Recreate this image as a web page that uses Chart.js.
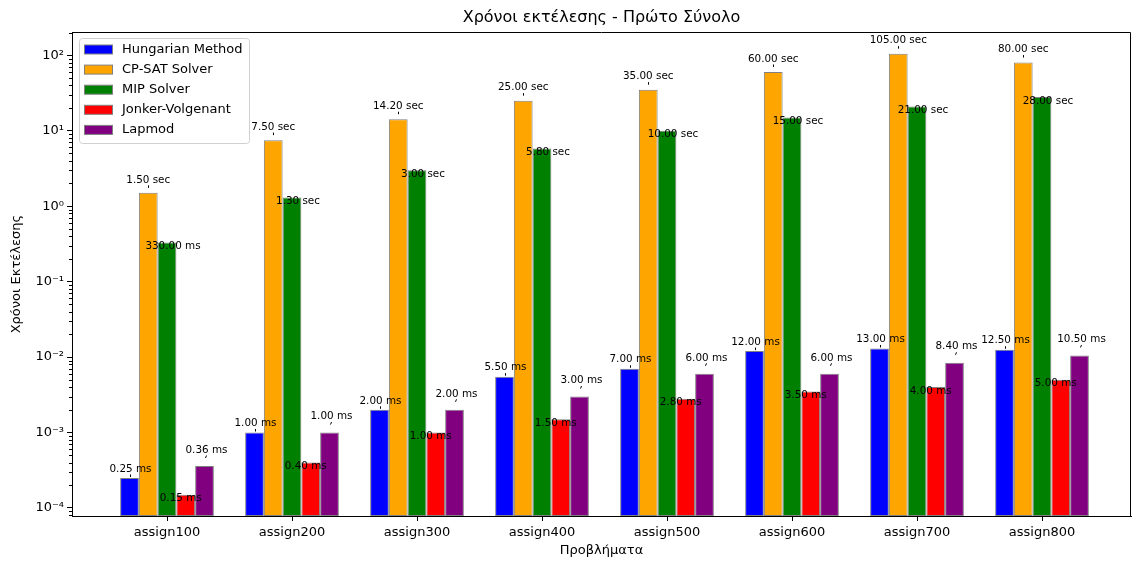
<!DOCTYPE html>
<html><head><meta charset="utf-8">
<script src="https://cdn.jsdelivr.net/npm/chart.js@4.4.1/dist/chart.umd.min.js"></script>
<style>html,body{margin:0;padding:0;background:#fff;} #wrap{width:1132px;height:561px;}</style>
</head><body><div id="wrap"><canvas id="c" width="1132" height="561"></canvas></div>
<script>
const categories = ['assign100','assign200','assign300','assign400','assign500','assign600','assign700','assign800'];
const hungarian = [0.00025, 0.001, 0.002, 0.0055, 0.007, 0.012, 0.013, 0.0125];
const cpSat = [1.5, 7.5, 14.2, 25, 35, 60, 105, 80];
const mip = [0.33, 1.3, 3.0, 5.8, 10, 15, 21, 28];
const jonker = [0.00015, 0.0004, 0.001, 0.0015, 0.0028, 0.0035, 0.004, 0.005];
const lapmod = [0.00036, 0.001, 0.002, 0.003, 0.006, 0.006, 0.0084, 0.0105];
const seriesNames = ['Hungarian Method','CP-SAT Solver','MIP Solver','Jonker-Volgenant','Lapmod'];
const yMajorTicks = [1e-4, 1e-3, 1e-2, 1e-1, 1, 10, 100];
const yTickLabels = ['10⁻⁴','10⁻³','10⁻²','10⁻¹','10⁰','10¹','10²'];

const seriesValues = [hungarian, cpSat, mip, jonker, lapmod];
const colors = ['#0000ff','#ffa500','#008000','#ff0000','#800080'];
// label placement style per series: [dx, dy of text centre from bar top, draw tick]
const labelStyle = [[1,-9,true],[0,-13,true],[6,4,false],[-5,4,false],[2,-16,true]];
const FONT = '"DejaVu Sans", sans-serif';
const Y_MIN = 7.83e-5, Y_MAX = 202;

function isMajor(v){ const l = Math.log10(v); return Math.abs(l - Math.round(l)) < 1e-9; }
function fmt(v){ return v < 1 ? (v*1000).toFixed(2) + ' ms' : v.toFixed(2) + ' sec'; }

const datasets = seriesNames.map((name, s) => ({
  label: name,
  data: seriesValues[s].map((v, i) => ({x: i, y: v})),
  backgroundColor: colors[s],
  borderColor: '#808080',
  borderWidth: 1,
  borderSkipped: false,
  categoryPercentage: 0.75,
  barPercentage: 1.0
}));

const extras = {
  id: 'extras',
  afterDraw(chart) {
    const ctx = chart.ctx, a = chart.chartArea;
    const ys = chart.scales.y;
    ctx.save();
    ctx.strokeStyle = '#000'; ctx.lineWidth = 1;
    ys.ticks.forEach(t => {
      if (isMajor(t.value)) return;
      const p = Math.round(ys.getPixelForValue(t.value)) + 0.5;
      ctx.beginPath(); ctx.moveTo(a.left - 3, p); ctx.lineTo(a.left, p); ctx.stroke();
    });
    ctx.beginPath();
    ctx.rect(Math.round(a.left) + 0.5, Math.round(a.top) + 0.5, Math.round(a.right - a.left) - 1, Math.round(a.bottom - a.top));
    ctx.stroke();
    ctx.font = '10.4px ' + FONT;
    ctx.textAlign = 'center'; ctx.textBaseline = 'middle';
    chart.data.datasets.forEach((ds, s) => {
      const meta = chart.getDatasetMeta(s);
      const [dx, dy, tick] = labelStyle[s];
      meta.data.forEach((bar, i) => {
        const v = seriesValues[s][i];
        const top = bar.y;
        if (tick) {
          ctx.strokeStyle = '#000'; ctx.lineWidth = 1;
          ctx.beginPath();
          const x0 = Math.round(bar.x) + 0.5;
          ctx.moveTo(x0, top + dy + 8); ctx.lineTo(x0 + (dx > 1 ? 1 : 0), top + dy + 5.5);
          ctx.stroke();
        }
        ctx.fillStyle = '#000';
        ctx.fillText(fmt(v), bar.x + dx, top + dy);
      });
    });
    const lx = 79.5, ly = 38.5, lw = 170, lh = 105;
    ctx.beginPath();
    if (ctx.roundRect) ctx.roundRect(lx, ly, lw, lh, 3); else ctx.rect(lx, ly, lw, lh);
    ctx.fillStyle = 'rgba(255,255,255,0.8)'; ctx.fill();
    ctx.strokeStyle = '#d0d0d0'; ctx.lineWidth = 1; ctx.stroke();
    ctx.font = '13px ' + FONT; ctx.textAlign = 'left'; ctx.textBaseline = 'middle';
    seriesNames.forEach((n, s) => {
      const cy = 49.5 + s * 20.1;
      ctx.fillStyle = colors[s];
      ctx.fillRect(84.5, cy - 4.5, 28, 9);
      ctx.strokeStyle = '#808080'; ctx.strokeRect(84.5, cy - 4.5, 28, 9);
      ctx.fillStyle = '#000';
      ctx.fillText(n, 122, cy);
    });
    ctx.restore();
  }
};

new Chart(document.getElementById('c'), {
  type: 'bar',
  data: { datasets },
  options: {
    responsive: false,
    animation: false,
    devicePixelRatio: 1,
    layout: { padding: { left: 0, right: 1, top: 0, bottom: 0 } },
    plugins: {
      legend: { display: false },
      tooltip: { enabled: false },
      title: {
        display: true,
        fullSize: false,
        text: 'Χρόνοι εκτέλεσης - Πρώτο Σύνολο',
        color: '#000',
        font: { family: FONT, size: 16, weight: 'normal' },
        padding: { top: 8, bottom: 5 }
      }
    },
    scales: {
      x: {
        type: 'linear',
        min: -0.76, max: 7.712,
        offset: false,
        afterBuildTicks: sc => { sc.ticks = categories.map((c, i) => ({ value: i })); },
        afterFit: sc => { sc.height = 45; },
        ticks: {
          autoSkip: false, maxRotation: 0, color: '#000', padding: 4,
          font: { family: FONT, size: 13 },
          callback: v => categories[Math.round(v)]
        },
        grid: { display: true, offset: false, drawOnChartArea: false, drawTicks: true, tickLength: 5, tickColor: '#000', color: '#000' },
        border: { display: true, color: '#000', width: 1 },
        title: { display: true, text: 'Προβλήματα', color: '#000', font: { family: FONT, size: 13 }, padding: { top: 0, bottom: 3 } }
      },
      y: {
        type: 'logarithmic',
        min: Y_MIN, max: Y_MAX,
        afterBuildTicks: sc => {
          const t = [];
          for (let n = -5; n <= 2; n++) for (let k = 1; k <= 9; k++) {
            const v = Number((k * Math.pow(10, n)).toPrecision(6));
            if (v >= Y_MIN && v <= Y_MAX) t.push({ value: v, major: k === 1 });
          }
          sc.ticks = t;
        },
        afterFit: sc => { sc.width = 72; },
        ticks: {
          autoSkip: false, color: '#000', padding: 3,
          font: { family: FONT, size: 13 },
          callback: v => { const i = yMajorTicks.findIndex(m => Math.abs(m - v) / m < 1e-6); return i >= 0 ? yTickLabels[i] : ''; }
        },
        grid: { display: true, drawOnChartArea: false, drawTicks: true, tickLength: 5,
          tickColor: c => (c.tick && isMajor(c.tick.value)) ? '#000' : 'rgba(0,0,0,0)', color: '#000' },
        border: { display: true, color: '#000', width: 1 },
        title: { display: true, text: 'Χρόνοι Εκτέλεσης', color: '#000', font: { family: FONT, size: 13 }, padding: { top: 9, bottom: 0 } }
      }
    }
  },
  plugins: [extras]
});
</script></body></html>
